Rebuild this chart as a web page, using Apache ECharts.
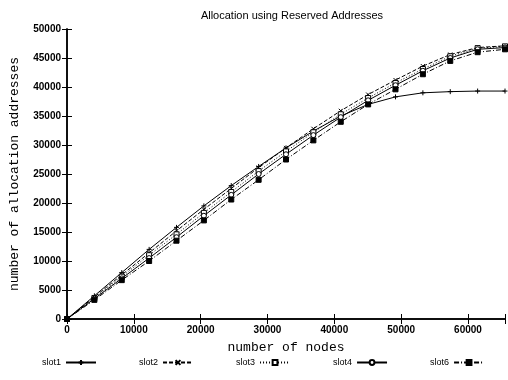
<!DOCTYPE html>
<html>
<head>
<meta charset="utf-8">
<script src="https://cdn.jsdelivr.net/npm/echarts@6/dist/echarts.min.js"></script>
<style>
  html, body { margin: 0; padding: 0; background: #fff; }
  #chart { width: 508px; height: 380px; }
</style>
</head>
<body>
<div id="chart"></div>
<script>
// nodes (x values)
const nodes = [0, 4096, 8192, 12288, 16384, 20480, 24576, 28672, 32768, 36864, 40960, 45056, 49152, 53248, 57344, 61440, 65536];

const slot1 = [0, 4000, 8000, 12000, 15800, 19500, 23000, 26300, 29500, 32400, 35000, 37000, 38300, 39000, 39200, 39300, 39300];
const slot2 = [0, 3800, 7600, 11400, 15200, 18900, 22500, 26100, 29500, 32800, 35900, 38700, 41200, 43600, 45600, 46800, 47100];
const slot3 = [0, 3600, 7300, 11000, 14600, 18300, 21900, 25500, 28900, 32200, 35300, 38100, 40700, 43100, 45300, 46700, 47000];
const slot4 = [0, 3500, 7000, 10500, 14100, 17800, 21400, 25000, 28400, 31700, 34800, 37700, 40300, 42800, 45000, 46500, 46800];
const slot6 = [0, 3300, 6700, 10000, 13500, 17000, 20600, 24000, 27500, 30800, 34000, 37000, 39600, 42200, 44500, 46000, 46500];

const xTicks = [0, 10000, 20000, 30000, 40000, 50000, 60000];

const plusPath = 'path://M5,0 L5,10 M0,5 L10,5';
const crossPath = 'path://M0,0 L10,10 M10,0 L0,10';

function pairs(ys) {
    return nodes.map((x, i) => [x, ys[i]]);
}

const chart = echarts.init(document.getElementById('chart'));

const baseLabel = { color: '#000', fontFamily: 'Liberation Sans', fontWeight: 'bold', fontSize: 10 };

chart.setOption({
    animation: false,
    backgroundColor: '#fff',
    title: {
        text: 'Allocation using Reserved Addresses',
        left: 287,
        textAlign: 'center',
        top: 5,
        textStyle: { fontFamily: 'Liberation Sans', fontWeight: 'normal', fontSize: 11, color: '#000' }
    },
    legend: {
        bottom: 8,
        left: 37,
        itemGap: 42,
        itemWidth: 30,
        itemHeight: 6,
        align: 'right',
        textStyle: { fontFamily: 'Liberation Sans', fontSize: 9, color: '#000' },
        data: ['slot1', 'slot2', 'slot3', 'slot4', 'slot6']
    },
    grid: { left: 66, right: 1, top: 29, bottom: 61 },
    xAxis: [
        {
            type: 'value', min: 0, max: 65536, interval: 10000,
            name: 'number of nodes', nameLocation: 'middle', nameGap: 22,
            nameTextStyle: { fontFamily: 'Liberation Mono', fontSize: 13, color: '#000' },
            axisLine: { lineStyle: { color: '#000', width: 1.5 } },
            axisTick: { inside: true, length: 5, lineStyle: { color: '#000' } },
            axisLabel: Object.assign({}, baseLabel, {
                margin: 6,
                formatter: v => xTicks.includes(v) ? String(v) : ''
            }),
            splitLine: { show: false }
        },
        {
            type: 'value', position: 'top', min: 0, max: 65536, interval: 10000,
            axisLine: { lineStyle: { color: '#000', width: 1.5 } },
            axisTick: { inside: true, length: 5, lineStyle: { color: '#000' } },
            axisLabel: { show: false },
            splitLine: { show: false }
        }
    ],
    yAxis: [
        {
            type: 'value', min: 0, max: 50000, interval: 5000,
            name: 'number of allocation addresses', nameLocation: 'middle', nameGap: 46,
            nameTextStyle: { fontFamily: 'Liberation Mono', fontSize: 13, color: '#000' },
            axisLine: { lineStyle: { color: '#000', width: 1.5 } },
            axisTick: { inside: true, length: 5, lineStyle: { color: '#000' } },
            axisLabel: Object.assign({}, baseLabel, { margin: 6, formatter: v => String(v) }),
            splitLine: { show: false }
        },
        {
            type: 'value', position: 'right', min: 0, max: 50000, interval: 5000,
            axisLine: { show: true, lineStyle: { color: '#000', width: 1.5 } },
            axisTick: { show: true, inside: true, length: 5, lineStyle: { color: '#000' } },
            axisLabel: { show: false },
            splitLine: { show: false }
        }
    ],
    series: [
        {
            name: 'slot1', type: 'line', data: pairs(slot1),
            symbol: plusPath, symbolSize: 5,
            lineStyle: { color: '#000', width: 1, type: 'solid' },
            itemStyle: { color: '#000', borderColor: '#000', borderWidth: 1 }
        },
        {
            name: 'slot2', type: 'line', data: pairs(slot2),
            symbol: crossPath, symbolSize: 4,
            lineStyle: { color: '#000', width: 1, type: [4, 2] },
            itemStyle: { color: '#000', borderColor: '#000', borderWidth: 1 }
        },
        {
            name: 'slot3', type: 'line', data: pairs(slot3),
            symbol: 'rect', symbolSize: 5,
            lineStyle: { color: '#000', width: 1, type: [1, 2] },
            itemStyle: { color: '#fff', borderColor: '#000', borderWidth: 1 }
        },
        {
            name: 'slot4', type: 'line', data: pairs(slot4),
            symbol: 'circle', symbolSize: 5,
            lineStyle: { color: '#000', width: 1, type: 'solid' },
            itemStyle: { color: '#fff', borderColor: '#000', borderWidth: 1 }
        },
        {
            name: 'slot6', type: 'line', data: pairs(slot6),
            symbol: 'rect', symbolSize: 5,
            lineStyle: { color: '#000', width: 1, type: [5, 2, 1, 2] },
            itemStyle: { color: '#000', borderColor: '#000', borderWidth: 1 }
        }
    ]
});
</script>
</body>
</html>
